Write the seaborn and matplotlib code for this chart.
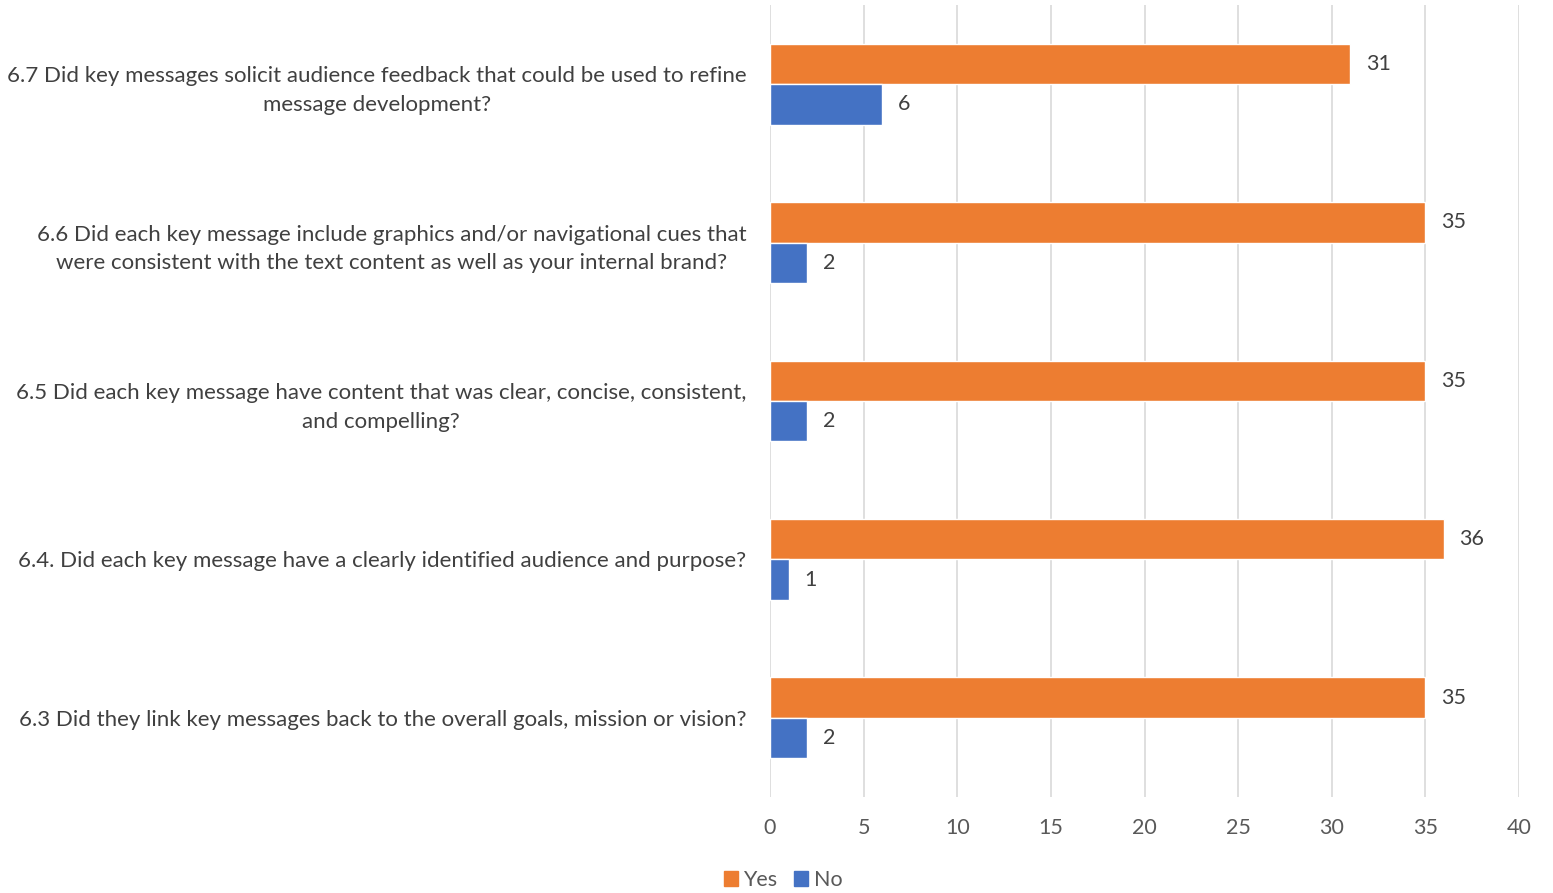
import numpy as np
import pandas as pd
import matplotlib.pyplot as plt
import seaborn as sns

questions = [
    '6.7 Did key messages solicit audience feedback that could be used to refine\nmessage development?',
    '6.6 Did each key message include graphics and/or navigational cues that\nwere consistent with the text content as well as your internal brand?',
    '6.5 Did each key message have content that was clear, concise, consistent,\nand compelling?',
    '6.4. Did each key message have a clearly identified audience and purpose?',
    '6.3 Did they link key messages back to the overall goals, mission or vision?',
]
yes_counts = [31, 35, 35, 36, 35]
no_counts = [6, 2, 2, 1, 2]

df = pd.DataFrame({
    'question': questions * 2,
    'answer': ['Yes'] * len(questions) + ['No'] * len(questions),
    'count': yes_counts + no_counts,
})

sns.set_style('white')
plt.rcParams['font.family'] = ['Lato', 'DejaVu Sans']

fig = plt.figure(figsize=(15.53, 8.93), dpi=100)
ax = fig.add_axes([770 / 1553, 1 - 797 / 893, (1519 - 770) / 1553, 792 / 893])

palette = {'Yes': '#ED7D31', 'No': '#4472C4'}
sns.barplot(data=df, y='question', x='count', hue='answer', order=questions,
            hue_order=['Yes', 'No'], palette=palette, width=0.51,
            orient='h', ax=ax, legend=False, saturation=1)

# 数据标签
for container in ax.containers:
    ax.bar_label(container, padding=11, fontsize=15.5, color='#404040')

ax.set_xlim(0, 40)
ax.set_xticks(range(0, 41, 5))
ax.set_ylim(len(questions) - 0.5, -0.5)
ax.xaxis.grid(True, color='#D9D9D9', linewidth=1.2)
ax.set_axisbelow(True)
for s in ax.spines.values():
    s.set_visible(False)
ax.set_xlabel('')
ax.set_ylabel('')
ax.tick_params(axis='x', labelsize=15.5, labelcolor='#595959', length=0, pad=15)
ax.tick_params(axis='y', labelsize=16, labelcolor='#404040', length=0, pad=17)
for lab in ax.get_yticklabels():
    lab.set_multialignment('center')
    lab.set_linespacing(1.55)

# 图例
handles = [plt.Rectangle((0, 0), 1, 1, color=palette[k]) for k in ['Yes', 'No']]
fig.legend(handles, ['Yes', 'No'], loc='center', bbox_to_anchor=(783 / 1553, 1 - 880 / 893),
           ncol=2, frameon=False, fontsize=15.5, handlelength=0.65, handleheight=0.65,
           handletextpad=0.25, columnspacing=0.8, labelcolor='#595959')

plt.savefig('out.png', dpi=100)
